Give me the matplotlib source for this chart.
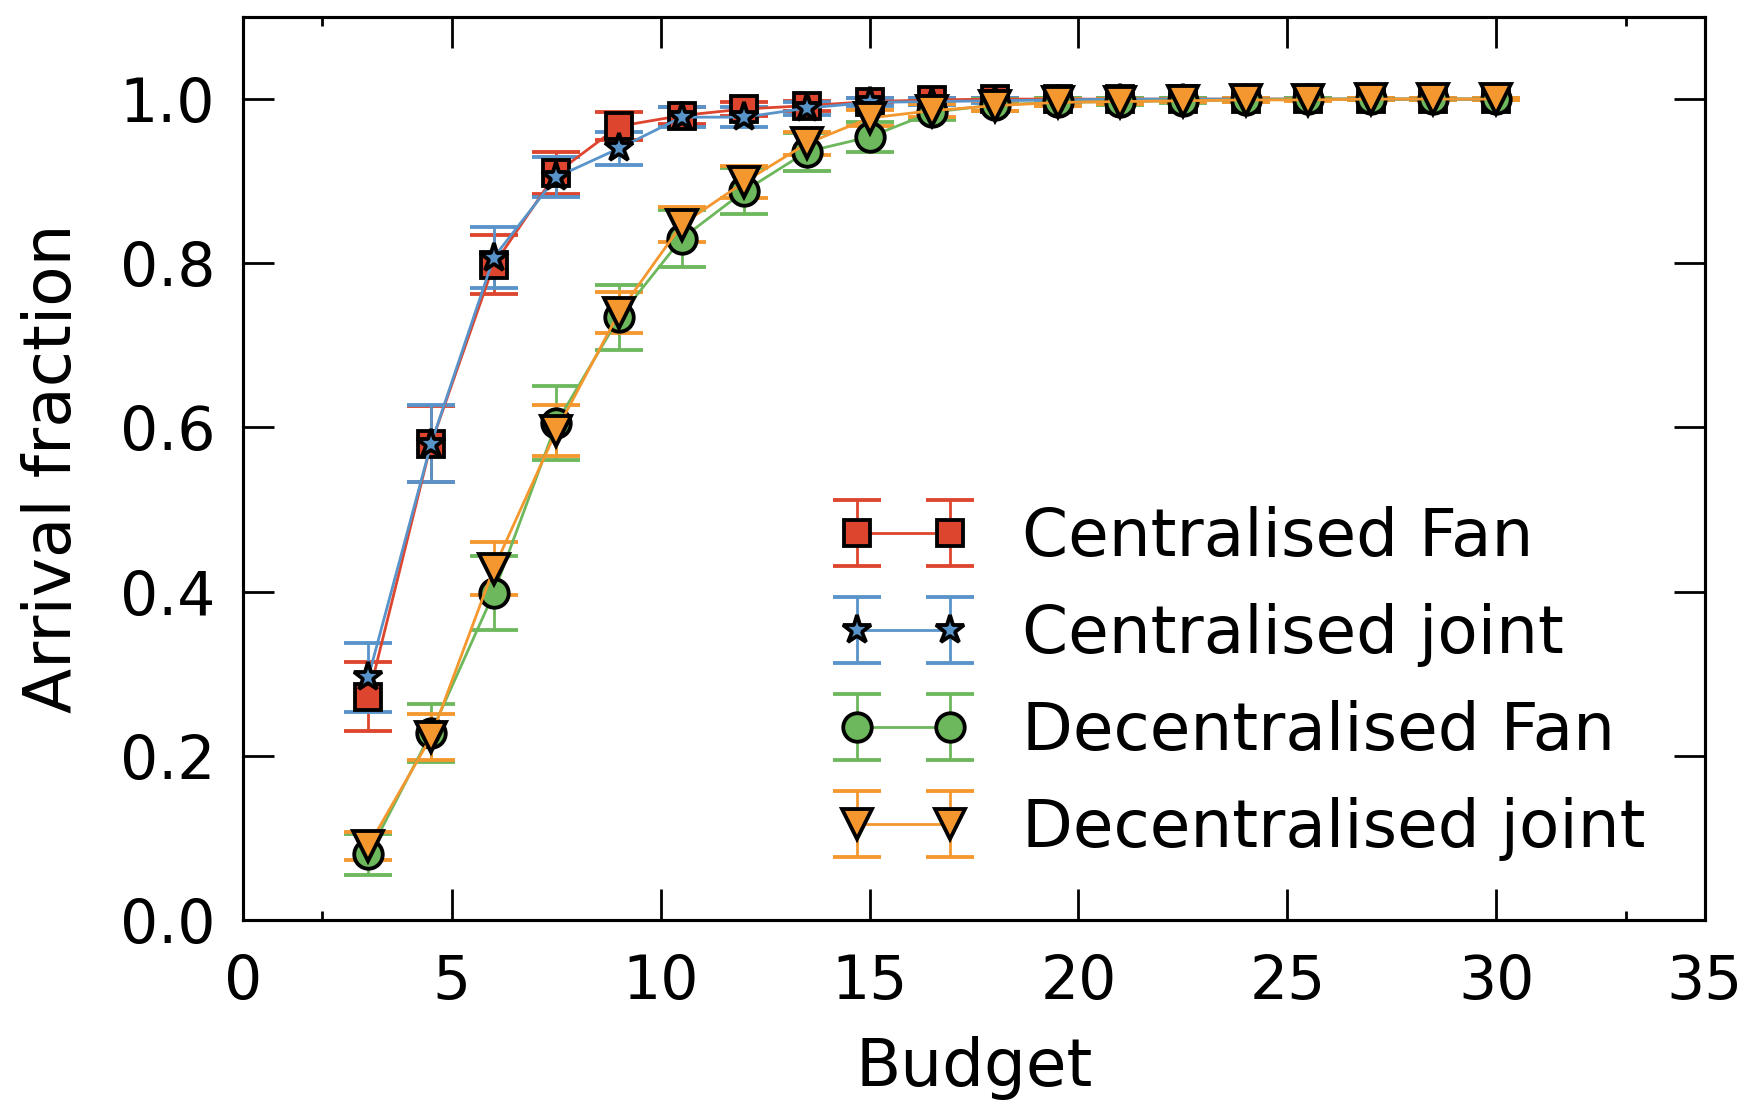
import numpy as np
import matplotlib
matplotlib.use('Agg')
import matplotlib.pyplot as plt
from matplotlib.ticker import FixedLocator

budget = [3, 4.5, 6, 7.5, 9, 10.5, 12, 13.5, 15, 16.5, 18, 19.5, 21, 22.5, 24, 25.5, 27, 28.5, 30]

# Centralised Fan
cfan = [0.272, 0.580, 0.798, 0.910, 0.967, 0.980, 0.988, 0.992, 0.997, 0.999, 1.0,
        1.0, 1.0, 1.0, 1.0, 1.0, 1.0, 1.0, 1.0]
cfan_err = [0.042, 0.046, 0.036, 0.025, 0.017, 0.010, 0.008, 0.006, 0.004, 0.002, 0.001,
            0.001, 0.001, 0.001, 0.001, 0.001, 0.001, 0.001, 0.001]

# Centralised joint
cjoint = [0.296, 0.580, 0.807, 0.905, 0.940, 0.978, 0.978, 0.989, 0.996, 0.997, 0.998,
          0.999, 1.0, 1.0, 1.0, 1.0, 1.0, 1.0, 1.0]
cjoint_err = [0.042, 0.047, 0.037, 0.024, 0.020, 0.012, 0.012, 0.008, 0.005, 0.004, 0.003,
              0.002, 0.001, 0.001, 0.001, 0.001, 0.001, 0.001, 0.001]

# Decentralised Fan
dfan = [0.080, 0.228, 0.398, 0.605, 0.734, 0.830, 0.888, 0.936, 0.954, 0.984, 0.993,
        0.996, 0.997, 0.998, 0.999, 1.0, 1.0, 1.0, 1.0]
dfan_err = [0.025, 0.035, 0.045, 0.045, 0.040, 0.035, 0.028, 0.023, 0.018, 0.010, 0.007,
            0.005, 0.004, 0.003, 0.002, 0.001, 0.001, 0.001, 0.001]

# Decentralised joint
djoint = [0.090, 0.223, 0.428, 0.596, 0.740, 0.847, 0.899, 0.946, 0.977, 0.986, 0.992,
          0.996, 0.997, 0.998, 0.999, 0.999, 1.0, 1.0, 1.0]
djoint_err = [0.017, 0.028, 0.032, 0.031, 0.025, 0.021, 0.019, 0.014, 0.010, 0.008, 0.006,
              0.004, 0.003, 0.002, 0.002, 0.001, 0.001, 0.001, 0.001]

labels = ['Centralised Fan', 'Centralised joint', 'Decentralised Fan', 'Decentralised joint']
colors = ['#DE452E', '#5893C9', '#6DB75C', '#F4972E']
markers = ['s', '*', 'o', 'v']
sizes = [7.6, 8.5, 8.2, 8.8]

plt.rcParams['font.family'] = 'DejaVu Sans'

fig = plt.figure(figsize=(7.02, 4.42), dpi=250)
ax = fig.add_axes([0.1385, 0.1674, 0.8330, 0.8172])

series = [(cfan, cfan_err), (cjoint, cjoint_err), (dfan, dfan_err), (djoint, djoint_err)]
for (y, e), lab, c, m, s in zip(series, labels, colors, markers, sizes):
    ax.errorbar(budget, y, yerr=e, label=lab, color=c, marker=m, markersize=s,
                markerfacecolor=c, markeredgecolor='black', markeredgewidth=1.1,
                linewidth=0.8, elinewidth=0.8, capsize=7, capthick=0.8)

ax.set_xlim(0, 35)
ax.set_ylim(0, 1.1)
ax.set_xticks([0, 5, 10, 15, 20, 25, 30, 35])
ax.set_yticks([0.0, 0.2, 0.4, 0.6, 0.8, 1.0])
ax.xaxis.set_minor_locator(FixedLocator([1.9, 33.1]))

ax.tick_params(which='both', direction='in', top=True, right=True, width=0.8)
ax.tick_params(which='major', length=9, labelsize=17.3)
ax.tick_params(axis='x', which='major', pad=9.5)
ax.tick_params(axis='y', which='major', pad=8)
ax.tick_params(which='minor', length=2.5)
for sp in ax.spines.values():
    sp.set_linewidth(0.9)

ax.set_xlabel('Budget', fontsize=19.0, labelpad=7)
ax.set_ylabel('Arrival fraction', fontsize=19.0, labelpad=10)

ax.legend(loc='lower right', frameon=False, fontsize=19.0, numpoints=2)

fig.savefig('out.png', dpi=250)
